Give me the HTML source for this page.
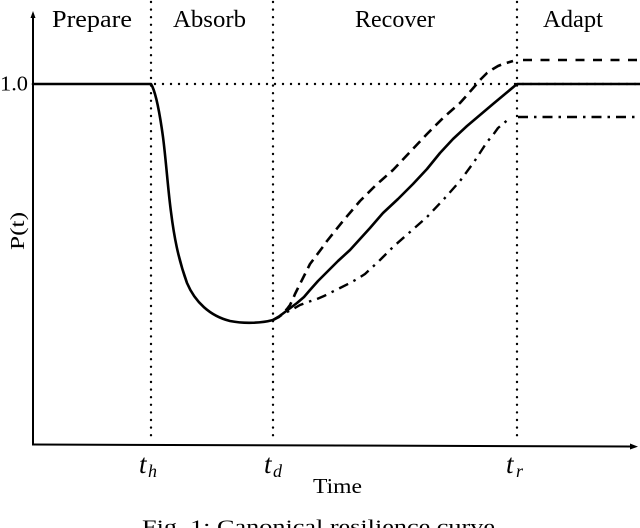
<!DOCTYPE html>
<html>
<head>
<meta charset="utf-8">
<style>
  html, body { margin: 0; padding: 0; background: #ffffff; }
  body { width: 640px; height: 528px; overflow: hidden; }
  svg { display: block; }
  text { font-family: "Liberation Serif", "DejaVu Serif", serif; fill: #000; }
</style>
</head>
<body>
<svg width="640" height="528" viewBox="0 0 640 528" xmlns="http://www.w3.org/2000/svg">
  <!-- vertical dotted phase separators -->
  <g stroke="#000" stroke-width="2.4" stroke-linecap="round" stroke-dasharray="0 7.6" fill="none">
    <line x1="151" y1="2" x2="151" y2="442"/>
    <line x1="273" y1="2" x2="273" y2="442"/>
    <line x1="517" y1="2" x2="517" y2="442"/>
    <!-- horizontal dotted at 1.0 -->
    <line x1="155" y1="84" x2="640" y2="84" stroke-dasharray="0 8"/>
  </g>

  <!-- axes -->
  <g stroke="#000" stroke-width="2" fill="none">
    <line x1="33" y1="16" x2="33" y2="445"/>
    <line x1="32" y1="444.5" x2="632" y2="446.5"/>
  </g>
  <polygon points="33,11 30.5,18 35.5,18" fill="#000"/>
  <polygon points="638,446.6 630,443.5 630,449.5" fill="#000"/>

  <!-- solid curve -->
  <path fill="none" stroke="#000" stroke-width="2.6" stroke-linejoin="round" stroke-linecap="round"
    d="M33,84 L151,84 C156,92 160,115 163,137 C166,160 168,190 171,212 C174,236 178,258 187,283 C195,302 210,316 230,321 C245,324 262,323 273,320 L279,316.5 L285,312 L291,307.5 L297,303 L304,297 L310,290 L318,281 L327,272 L338,261 L350,250 L360,239 L370,228 L383,213 L398,199 L413,184 L427,169 L440,153 L453,139 L467,126 L480,115 L493,104 L505,94 L517,84 L640,84"/>

  <!-- dashed (upper) curve -->
  <polyline fill="none" stroke="#000" stroke-width="2.6" stroke-dasharray="10 6" stroke-linejoin="round"
    points="273,320 279,317 283,313 287,309 290,305 293,299 295,294 298,288 300,284 305,274 310,264 316,256 322,248 327,241 343,221 360,201 376,185 393,170 410,152 427,134 443,118 460,103 468,94 475,86 481,79 487,73 493,69 498,66 503,64 508,62.5 513,61"/>
  <line x1="523" y1="60" x2="640" y2="60" stroke="#000" stroke-width="2.6" stroke-dasharray="9 8.5"/>

  <!-- dash-dot (lower) curve -->
  <polyline fill="none" stroke="#000" stroke-width="2.4" stroke-dasharray="10 6 2.5 6" stroke-linejoin="round"
    points="273,320 280,316 287,312 294,308.5 300,305 308,302 317,299 324,296 330,293 340,288 350,283 358,278.5 365,274 379,261 393,247 410,232 427,217 444,199 460,181 474,162 487,142 493,135 498,128 504,123 510,118"/>
  <line x1="518" y1="117" x2="640" y2="117" stroke="#000" stroke-width="2.4" stroke-dasharray="10 6 2.5 6"/>

  <!-- phase titles -->
  <text x="52" y="27" font-size="24" textLength="80" lengthAdjust="spacingAndGlyphs">Prepare</text>
  <text x="173" y="27" font-size="24" textLength="73" lengthAdjust="spacingAndGlyphs">Absorb</text>
  <text x="355" y="27" font-size="24" textLength="80" lengthAdjust="spacingAndGlyphs">Recover</text>
  <text x="543" y="27" font-size="24" textLength="60" lengthAdjust="spacingAndGlyphs">Adapt</text>

  <!-- y tick label -->
  <text x="0" y="90.5" font-size="21" textLength="28" lengthAdjust="spacingAndGlyphs">1.0</text>

  <!-- y axis label -->
  <text transform="translate(24,231) rotate(-90)" text-anchor="middle" font-size="20" textLength="38" lengthAdjust="spacingAndGlyphs">P(t)</text>

  <!-- x tick labels -->
  <text x="139" y="473" font-size="27" font-style="italic">t</text>
  <text x="148" y="477" font-size="18" font-style="italic">h</text>
  <text x="264" y="473" font-size="27" font-style="italic">t</text>
  <text x="273" y="477" font-size="18" font-style="italic">d</text>
  <text x="506" y="473" font-size="27" font-style="italic">t</text>
  <text x="516" y="477" font-size="18" font-style="italic">r</text>

  <!-- x axis label -->
  <text x="313" y="493" font-size="21" textLength="49" lengthAdjust="spacingAndGlyphs">Time</text>

  <!-- caption (partially cut) -->
  <text x="142" y="533.5" font-size="20" textLength="353" lengthAdjust="spacingAndGlyphs">Fig. 1: Canonical resilience curve</text>
</svg>
</body>
</html>
